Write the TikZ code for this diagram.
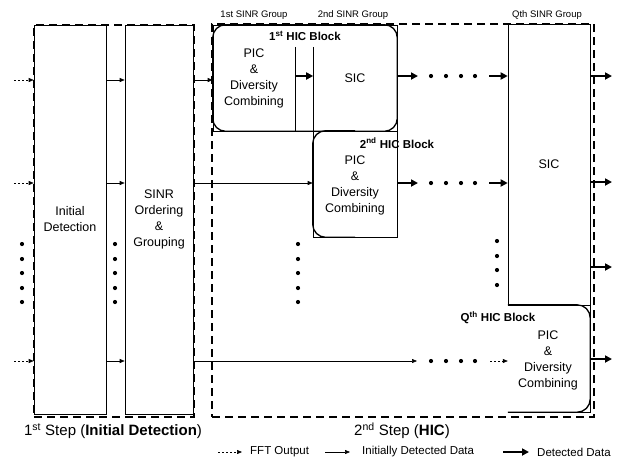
\documentclass[tikz,border=0pt]{standalone}
\usepackage{fontspec}
\setmainfont{Liberation Sans}
\usetikzlibrary{arrows.meta}
\begin{document}
\begin{tikzpicture}[x=1pt,y=-1pt,
  txt/.style={inner sep=0pt, align=center, font=\fontsize{12.5}{16}\selectfont},
  box/.style={draw, line width=0.6pt, inner sep=0pt, align=center, font=\fontsize{12.5}{16}\selectfont},
  plainbox/.style={inner sep=0pt},
  stepframe/.style={draw, line width=1.8pt, dash pattern=on 8pt off 5pt, inner sep=0pt},
  roundedge/.style={line width=1.3pt, rounded corners=13pt},
  grouplabel/.style={inner sep=0pt, font=\fontsize{9.5}{11}\selectfont},
  blocklabel/.style={inner sep=0pt, font=\fontsize{11.5}{13}\selectfont\bfseries},
  steplabel/.style={inner sep=0pt, font=\fontsize{15}{17}\selectfont},
  legendtext/.style={inner sep=0pt, anchor=west, font=\fontsize{11.5}{13}\selectfont},
  thinarrow/.style={line width=0.6pt, -{Triangle[length=5pt,width=4pt]}},
  fftarrow/.style={line width=0.6pt, dash pattern=on 2pt off 2pt, -{Triangle[length=5pt,width=4pt]}},
  thickarrow/.style={line width=2.3pt, -{Triangle[length=7pt,width=7pt]}},
  dotmark/.style={fill=black},
]
\useasboundingbox (0,0) rectangle (624,459);

% ---- 1st step boxes
\node[box, minimum width=72, minimum height=389] (init) at (70,219.5) {Initial\\Detection};
\node[box, minimum width=68, minimum height=389] (sinr) at (159,219.5) {SINR\\Ordering\\\&\\Grouping};
\node[stepframe, minimum width=160, minimum height=392] (step1) at (114,221) {};

% ---- 2nd step frame
\node[stepframe, minimum width=382, minimum height=393] (step2) at (403,220.5) {};

% ---- 1st HIC block
\node[box, minimum width=184, minimum height=106] (hic1) at (305,78) {};
\draw[roundedge] (hic1.north west) rectangle (hic1.south east);
\node[blocklabel] (hic1lab) at (305,36) {1\textsuperscript{st} HIC Block};
\node[txt] (pic1) at (254,78) {PIC\\\&\\Diversity\\Combining};
\node[plainbox, minimum width=18, minimum height=84] (gap1) at (304,89) {};
\draw[line width=0.6pt] (gap1.north west) -- (gap1.south west);
\draw[line width=0.6pt] (gap1.north east) -- (gap1.south east);
\node[txt] (sic1) at (355,78) {SIC};

% ---- 2nd HIC block
\node[box, minimum width=84, minimum height=106] (hic2) at (355,184) {};
\draw[roundedge] (hic2.north) -- (hic2.north west) -- (hic2.south west) -- (hic2.south);
\node[blocklabel] (hic2lab) at (397,143) {2\textsuperscript{nd} HIC Block};
\node[txt] (pic2) at (355,185) {PIC\\\&\\Diversity\\Combining};

% ---- Q-th SINR group
\node[box, minimum width=82, minimum height=281] (sicQ) at (549,164.5) {SIC};
\node[plainbox, minimum width=82, minimum height=107] (hicQ) at (549,358.5) {};
\draw[line width=0.6pt] (hicQ.north west) -- (hicQ.north east) -- (hicQ.south east) -- (hicQ.south west);
\draw[roundedge] (hicQ.north west) -- (hicQ.north east) -- (hicQ.south east) -- (hicQ.south west);
\node[blocklabel] (hicQlab) at (498,318) {Q\textsuperscript{th} HIC Block};
\node[txt] (picQ) at (548,360) {PIC\\\&\\Diversity\\Combining};

% ---- group labels
\node[grouplabel] (g1) at (254,15) {1st SINR Group};
\node[grouplabel] (g2) at (353,15) {2nd SINR Group};
\node[grouplabel] (gQ) at (547,15) {Qth SINR Group};

% ---- step labels
\node[steplabel] (s1) at (113,431) {1\textsuperscript{st} Step (\textbf{Initial Detection})};
\node[steplabel] (s2) at (402,431) {2\textsuperscript{nd} Step (\textbf{HIC})};

% ---- input rows
\coordinate (r1) at (14,80);
\coordinate (r2) at (14,183);
\coordinate (r3) at (14,361);
\foreach \r in {r1,r2,r3} {
  \draw[fftarrow] (\r) -- (init.west |- \r);
  \draw[thinarrow] (init.east |- \r) -- (sinr.west |- \r);
}
\draw[thinarrow] (sinr.east |- r1) -- (hic1.west |- r1);
\draw[thinarrow] (sinr.east |- r2) -- (hic2.west |- r2);
\coordinate (q3a) at (417,361);
\coordinate (q3b) at (490,361);
\draw[thinarrow] (sinr.east |- r3) -- (q3a);
\draw[fftarrow] (q3b) -- (hicQ.west |- q3b);

% ---- inside 1st HIC block
\coordinate (d1) at (0,76);
\draw[thickarrow] (gap1.west |- d1) -- (gap1.east |- d1);

% ---- detected data rows
\coordinate (a1) at (418,76);
\coordinate (b1) at (489,76);
\coordinate (a2) at (418,183);
\coordinate (b2) at (489,183);
\draw[thickarrow] (hic1.east |- a1) -- (a1);
\draw[thickarrow] (b1) -- (sicQ.west |- b1);
\draw[thickarrow] (hic2.east |- a2) -- (a2);
\draw[thickarrow] (b2) -- (sicQ.west |- b2);

% ---- outputs
\foreach \y [count=\i] in {76,182,267,359} {
  \coordinate (o\i) at (612,\y);
  \draw[thickarrow] (sicQ.east |- o\i) -- (o\i);
}

% ---- horizontal dots
\foreach \y in {76,183,361} {
  \foreach \x in {431,446,461,475} {\fill[dotmark] (\x,\y) circle (2.1pt);}
}
% ---- vertical dots
\foreach \x in {22,115,298} {
  \foreach \y in {244,259,273,288,302} {\fill[dotmark] (\x,\y) circle (2.1pt);}
}
\foreach \y in {241,256,270,285} {\fill[dotmark] (497,\y) circle (2.1pt);}

% ---- legend
\coordinate (l1a) at (218,452);
\coordinate (l1b) at (242,452);
\coordinate (l2a) at (325,452);
\coordinate (l2b) at (350,452);
\coordinate (l3a) at (503,452);
\coordinate (l3b) at (529,452);
\draw[fftarrow] (l1a) -- (l1b);
\draw[thinarrow] (l2a) -- (l2b);
\draw[thickarrow] (l3a) -- (l3b);
\node[legendtext] (lt1) at (250,452) {FFT Output};
\node[legendtext] (lt2) at (362,452) {Initially Detected Data};
\node[legendtext] (lt3) at (537,452) {Detected Data};
\end{tikzpicture}
\end{document}
